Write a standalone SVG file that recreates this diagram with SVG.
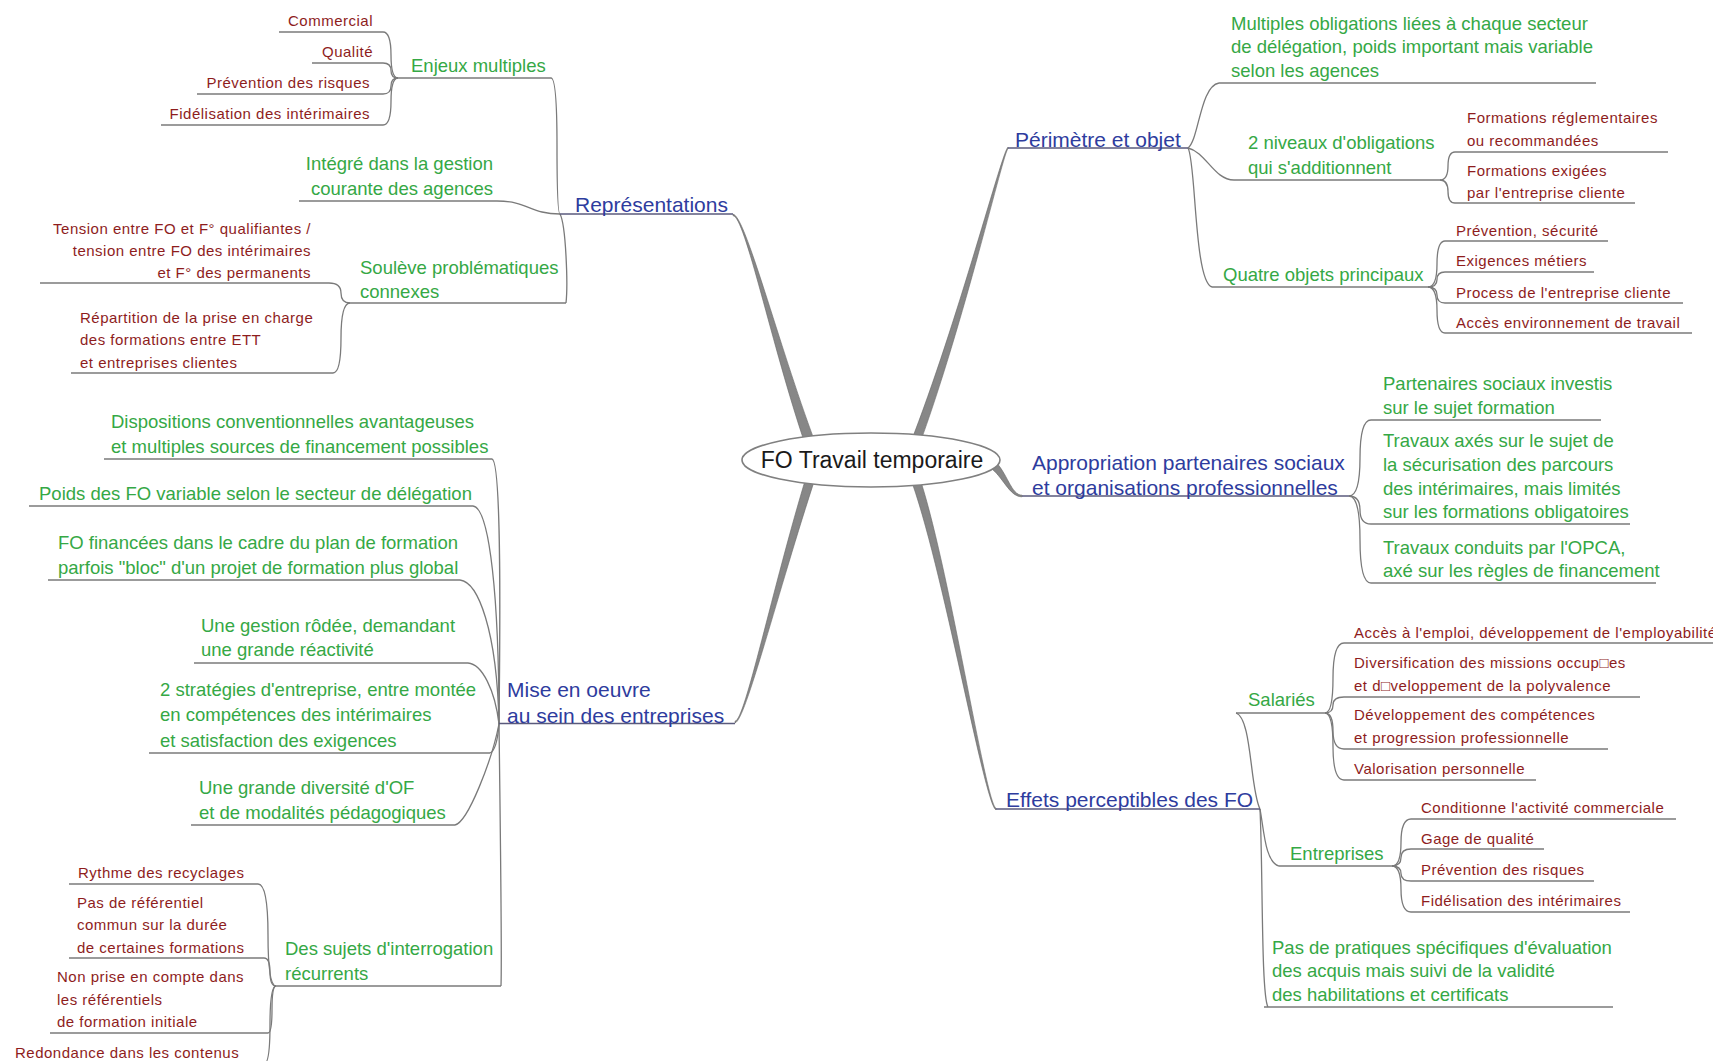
<svg xmlns="http://www.w3.org/2000/svg" width="1713" height="1061" viewBox="0 0 1713 1061">
<style>
  text { font-family: 'Liberation Sans', Arial, sans-serif; }
  .b { font-size: 21px; fill: #2e3c9e; }
  .g { font-size: 18.5px; fill: #35a845; }
  .r { font-size: 15px; fill: #8e1d1d; letter-spacing: 0.5px; }
  .e { text-anchor: end; }
  .ctr { font-size: 23px; fill: #1a1a1a; text-anchor: middle; }
  .ul { stroke: #7a7a7a; stroke-width: 1.4; }
  .mul { stroke: #5a5a7c; stroke-width: 1.6; }
  .c path { fill: none; stroke: #7a7a7a; stroke-width: 1.3; }
  .c path.trunk { fill: #878787; stroke: #666; stroke-width: 0.6; }
</style>
<rect width="1713" height="1061" fill="#fff"/>

<!-- connectors -->
<g id="connectors" class="c">
  <!-- main tapered branches from the central topic -->
  <path class="trunk" d="M 733,214.3 C 745,214.3 778.3,343.8 814.7,441.3 L 805.3,444.7 C 771.7,346.2 745,215.7 733,215.7 Z"/>
  <path class="trunk" d="M 1008,147.2 C 1002.5,149.2 959.1,318.9 909.5,445.6 L 917.9,448.8 C 964.9,321.1 1003.5,150.8 1008,148.8 Z"/>
  <path class="trunk" d="M 735,721.2 C 745,721.2 772,589 807.3,473.2 L 815.9,476 C 778,591 745,722.8 735,722.8 Z"/>
  <path class="trunk" d="M 996,808.2 C 985.5,804.2 948,558.9 918.1,473.2 L 909.7,476.2 C 942,561.1 984.5,805.8 996,809.8 Z"/>
  <path class="trunk" d="M 1022,495.2 C 1011,495.2 1007,471.8 994.4,460.8 L 989.6,467.2 C 1003,476.2 1009,496.8 1022,496.8 Z"/>

  <!-- Représentations -->
  <path d="M 551 78 Q 557 78 557 146 T 560 214"/>
  <path d="M 497 201 C 528 201, 530 214, 560 214"/>
  <path d="M 560 214 C 566 225, 568 285, 566 303"/>
  <!-- Enjeux multiples -->
  <path d="M 383 32 Q 391 32 391 55 T 398 78"/>
  <path d="M 383 63 Q 391 63 391 70.5 T 398 78"/>
  <path d="M 383 94 Q 391 94 391 86 T 398 78"/>
  <path d="M 383 125 Q 391 125 391 101.5 T 398 78"/>
  <!-- Soulève problématiques -->
  <path d="M 329 283 Q 341 283 341 293 T 350 303"/>
  <path d="M 333 373 Q 341 373 341 338 T 350 303"/>

  <!-- Mise en oeuvre -->
  <path d="M 492 459 C 502 461, 500 640, 499 724"/>
  <path d="M 473 506 C 490 508, 499 600, 499 724"/>
  <path d="M 460 580 C 478 582, 497 630, 499 724"/>
  <path d="M 468 663 C 482 664, 495 690, 499 724"/>
  <path d="M 490 753 Q 497 750 499 724"/>
  <path d="M 455 825 C 468 822, 492 760, 499 724"/>
  <path d="M 499 724 C 500 800, 502 960, 501 986"/>
  <!-- Des sujets d'interrogation -->
  <path d="M 258 884 Q 268 884 268 935 T 276 986"/>
  <path d="M 264 958 Q 270 958 270 972 T 276 986"/>
  <path d="M 268 1033 Q 272 1033 272 1009.5 T 276 986"/>
  <path d="M 264 1064 Q 270 1064 270 1025 T 276 986"/>

  <!-- Périmètre et objet -->
  <path d="M 1188 148 C 1199 140, 1200 86, 1219 83"/>
  <path d="M 1188 148 C 1206 152, 1214 180, 1234 180"/>
  <path d="M 1188 148 C 1196 160, 1194 282, 1212 287"/>
  <path d="M 1440 180 Q 1448 180 1448 166 T 1455 152"/>
  <path d="M 1440 180 Q 1448 180 1448 191.5 T 1455 203"/>
  <path d="M 1428 287 Q 1437 287 1437 264 T 1445 241"/>
  <path d="M 1428 287 Q 1437 287 1437 279.5 T 1445 272"/>
  <path d="M 1428 287 Q 1437 287 1437 295 T 1445 303"/>
  <path d="M 1428 287 Q 1437 287 1437 310 T 1445 333"/>

  <!-- Appropriation -->
  <path d="M 1349 496 Q 1360 496 1360 458 T 1371 420"/>
  <path d="M 1349 496 Q 1360 496 1360 510 T 1371 524"/>
  <path d="M 1349 496 Q 1360 496 1360 539.5 T 1371 583"/>

  <!-- Effets perceptibles -->
  <path d="M 1260 809 C 1250 790, 1252 718, 1236 713"/>
  <path d="M 1260 809 C 1264 830, 1265 862, 1279 866"/>
  <path d="M 1260 809 C 1263 870, 1261 995, 1268 1007"/>
  <path d="M 1325 713 Q 1333 713 1333 678 T 1344 643"/>
  <path d="M 1325 713 Q 1333 713 1333 705 T 1344 697"/>
  <path d="M 1325 713 Q 1333 713 1333 731 T 1344 749"/>
  <path d="M 1325 713 Q 1333 713 1333 746.5 T 1344 780"/>
  <path d="M 1392 866 Q 1401 866 1401 842.5 T 1411 819"/>
  <path d="M 1392 866 Q 1401 866 1401 857.5 T 1411 849"/>
  <path d="M 1392 866 Q 1401 866 1401 873.5 T 1411 881"/>
  <path d="M 1392 866 Q 1401 866 1401 889 T 1411 912"/>
</g>

<!-- central topic -->
<g id="center">
  <ellipse cx="871" cy="460" rx="129" ry="27" fill="#fff" stroke="#808080" stroke-width="1.6"/>
  <text class="ctr" x="872" y="468">FO Travail temporaire</text>
</g>

<!-- Représentations -->
<g id="representations">
  <line class="mul" x1="560" y1="214" x2="733" y2="214"/>
  <text class="b" x="575" y="212">Représentations</text>
</g>
<g id="enjeux">
  <line class="ul" x1="398" y1="78" x2="551" y2="78"/>
  <text class="g" x="411" y="71.5">Enjeux multiples</text>
</g>
<g id="commercial">
  <line class="ul" x1="279" y1="32" x2="383" y2="32"/>
  <text class="r e" x="373" y="26">Commercial</text>
</g>
<g id="qualite">
  <line class="ul" x1="312" y1="63" x2="383" y2="63"/>
  <text class="r e" x="373" y="57">Qualité</text>
</g>
<g id="prevention-risques-1">
  <line class="ul" x1="197" y1="94" x2="383" y2="94"/>
  <text class="r e" x="370" y="88">Prévention des risques</text>
</g>
<g id="fidelisation-1">
  <line class="ul" x1="161" y1="125" x2="383" y2="125"/>
  <text class="r e" x="370" y="119">Fidélisation des intérimaires</text>
</g>
<g id="integre">
  <line class="ul" x1="299" y1="201" x2="497" y2="201"/>
  <text class="g e"><tspan x="493" y="169.5">Intégré dans la gestion</tspan><tspan x="493" y="194.5">courante des agences</tspan></text>
</g>
<g id="souleve">
  <line class="ul" x1="350" y1="303" x2="566" y2="303"/>
  <text class="g"><tspan x="360" y="273.5">Soulève problématiques</tspan><tspan x="360" y="297.5">connexes</tspan></text>
</g>
<g id="tension">
  <line class="ul" x1="40" y1="283" x2="329" y2="283"/>
  <text class="r e"><tspan x="311" y="233.5">Tension entre FO et F° qualifiantes /</tspan><tspan x="311" y="255.5">tension entre FO des intérimaires</tspan><tspan x="311" y="277.5">et F° des permanents</tspan></text>
</g>
<g id="repartition">
  <line class="ul" x1="71" y1="373" x2="333" y2="373"/>
  <text class="r"><tspan x="80" y="322.5">Répartition de la prise en charge</tspan><tspan x="80" y="345">des formations entre ETT</tspan><tspan x="80" y="367.5">et entreprises clientes</tspan></text>
</g>

<!-- Mise en oeuvre -->
<g id="mise-en-oeuvre">
  <line class="mul" x1="499" y1="723.5" x2="735" y2="723.5"/>
  <text class="b"><tspan x="507" y="697">Mise en oeuvre</tspan><tspan x="507" y="722.5">au sein des entreprises</tspan></text>
</g>
<g id="dispositions">
  <line class="ul" x1="104" y1="459" x2="492" y2="459"/>
  <text class="g"><tspan x="111" y="427.5">Dispositions conventionnelles avantageuses</tspan><tspan x="111" y="452.5">et multiples sources de financement possibles</tspan></text>
</g>
<g id="poids">
  <line class="ul" x1="29" y1="506" x2="473" y2="506"/>
  <text class="g" x="39" y="499.5">Poids des FO variable selon le secteur de délégation</text>
</g>
<g id="fo-financees">
  <line class="ul" x1="48" y1="580" x2="460" y2="580"/>
  <text class="g"><tspan x="58" y="548.5">FO financées dans le cadre du plan de formation</tspan><tspan x="58" y="573.5">parfois "bloc" d'un projet de formation plus global</tspan></text>
</g>
<g id="gestion-rodee">
  <line class="ul" x1="194" y1="663" x2="468" y2="663"/>
  <text class="g"><tspan x="201" y="631.5">Une gestion rôdée, demandant</tspan><tspan x="201" y="656">une grande réactivité</tspan></text>
</g>
<g id="strategies">
  <line class="ul" x1="149" y1="753" x2="490" y2="753"/>
  <text class="g"><tspan x="160" y="695.5">2 stratégies d'entreprise, entre montée</tspan><tspan x="160" y="721">en compétences des intérimaires</tspan><tspan x="160" y="746.5">et satisfaction des exigences</tspan></text>
</g>
<g id="diversite-of">
  <line class="ul" x1="191" y1="825" x2="455" y2="825"/>
  <text class="g"><tspan x="199" y="793.5">Une grande diversité d'OF</tspan><tspan x="199" y="818.5">et de modalités pédagogiques</tspan></text>
</g>
<g id="sujets">
  <line class="ul" x1="276" y1="986" x2="501" y2="986"/>
  <text class="g"><tspan x="285" y="954.5">Des sujets d'interrogation</tspan><tspan x="285" y="979.5">récurrents</tspan></text>
</g>
<g id="rythme">
  <line class="ul" x1="69" y1="884" x2="258" y2="884"/>
  <text class="r" x="78" y="878">Rythme des recyclages</text>
</g>
<g id="pas-referentiel">
  <line class="ul" x1="69" y1="958" x2="264" y2="958"/>
  <text class="r"><tspan x="77" y="907.5">Pas de référentiel</tspan><tspan x="77" y="930">commun sur la durée</tspan><tspan x="77" y="952.5">de certaines formations</tspan></text>
</g>
<g id="non-prise">
  <line class="ul" x1="50" y1="1033" x2="268" y2="1033"/>
  <text class="r"><tspan x="57" y="982">Non prise en compte dans</tspan><tspan x="57" y="1004.5">les référentiels</tspan><tspan x="57" y="1027">de formation initiale</tspan></text>
</g>
<g id="redondance">
  <text class="r" x="15" y="1057.5">Redondance dans les contenus</text>
</g>

<!-- Périmètre et objet -->
<g id="perimetre">
  <line class="mul" x1="1008" y1="148" x2="1188" y2="148"/>
  <text class="b" x="1015" y="146.5">Périmètre et objet</text>
</g>
<g id="multiples">
  <line class="ul" x1="1219" y1="83" x2="1596" y2="83"/>
  <text class="g"><tspan x="1231" y="29.5">Multiples obligations liées à chaque secteur</tspan><tspan x="1231" y="53">de délégation, poids important mais variable</tspan><tspan x="1231" y="76.5">selon les agences</tspan></text>
</g>
<g id="deux-niveaux">
  <line class="ul" x1="1234" y1="180" x2="1440" y2="180"/>
  <text class="g"><tspan x="1248" y="149">2 niveaux d'obligations</tspan><tspan x="1248" y="173.5">qui s'additionnent</tspan></text>
</g>
<g id="reglementaires">
  <line class="ul" x1="1455" y1="152" x2="1668" y2="152"/>
  <text class="r"><tspan x="1467" y="123">Formations réglementaires</tspan><tspan x="1467" y="146">ou recommandées</tspan></text>
</g>
<g id="exigees">
  <line class="ul" x1="1455" y1="203" x2="1635" y2="203"/>
  <text class="r"><tspan x="1467" y="175.5">Formations exigées</tspan><tspan x="1467" y="198">par l'entreprise cliente</tspan></text>
</g>
<g id="quatre-objets">
  <line class="ul" x1="1212" y1="287" x2="1428" y2="287"/>
  <text class="g" x="1223" y="280.5">Quatre objets principaux</text>
</g>
<g id="prevention-securite">
  <line class="ul" x1="1445" y1="241" x2="1608" y2="241"/>
  <text class="r" x="1456" y="235.5">Prévention, sécurité</text>
</g>
<g id="exigences-metiers">
  <line class="ul" x1="1445" y1="272" x2="1594" y2="272"/>
  <text class="r" x="1456" y="266">Exigences métiers</text>
</g>
<g id="process">
  <line class="ul" x1="1445" y1="303" x2="1683" y2="303"/>
  <text class="r" x="1456" y="297.5">Process de l'entreprise cliente</text>
</g>
<g id="acces-environnement">
  <line class="ul" x1="1445" y1="333" x2="1692" y2="333"/>
  <text class="r" x="1456" y="328">Accès environnement de travail</text>
</g>

<!-- Appropriation -->
<g id="appropriation">
  <line class="mul" x1="1022" y1="496" x2="1349" y2="496"/>
  <text class="b"><tspan x="1032" y="469.5">Appropriation partenaires sociaux</tspan><tspan x="1032" y="495">et organisations professionnelles</tspan></text>
</g>
<g id="partenaires">
  <line class="ul" x1="1371" y1="420" x2="1601" y2="420"/>
  <text class="g"><tspan x="1383" y="389.5">Partenaires sociaux investis</tspan><tspan x="1383" y="413.5">sur le sujet formation</tspan></text>
</g>
<g id="travaux-axes">
  <line class="ul" x1="1371" y1="524" x2="1630" y2="524"/>
  <text class="g"><tspan x="1383" y="446.5">Travaux axés sur le sujet de</tspan><tspan x="1383" y="470.5">la sécurisation des parcours</tspan><tspan x="1383" y="494.5">des intérimaires, mais limités</tspan><tspan x="1383" y="518">sur les formations obligatoires</tspan></text>
</g>
<g id="travaux-opca">
  <line class="ul" x1="1371" y1="583" x2="1656" y2="583"/>
  <text class="g"><tspan x="1383" y="553.5">Travaux conduits par l'OPCA,</tspan><tspan x="1383" y="577">axé sur les règles de financement</tspan></text>
</g>

<!-- Effets perceptibles des FO -->
<g id="effets">
  <line class="mul" x1="996" y1="809" x2="1260" y2="809"/>
  <text class="b" x="1006" y="807">Effets perceptibles des FO</text>
</g>
<g id="salaries">
  <line class="ul" x1="1236" y1="713" x2="1325" y2="713"/>
  <text class="g" x="1248" y="706">Salariés</text>
</g>
<g id="acces-emploi">
  <line class="ul" x1="1344" y1="643" x2="1713" y2="643"/>
  <text class="r" x="1354" y="637.5">Accès à l'emploi, développement de l'employabilité</text>
</g>
<g id="diversification">
  <line class="ul" x1="1344" y1="697" x2="1640" y2="697"/>
  <text class="r"><tspan x="1354" y="667.5">Diversification des missions occup□es</tspan><tspan x="1354" y="690.5">et d□veloppement de la polyvalence</tspan></text>
</g>
<g id="developpement">
  <line class="ul" x1="1344" y1="749" x2="1608" y2="749"/>
  <text class="r"><tspan x="1354" y="719.5">Développement des compétences</tspan><tspan x="1354" y="742.5">et progression professionnelle</tspan></text>
</g>
<g id="valorisation">
  <line class="ul" x1="1344" y1="780" x2="1536" y2="780"/>
  <text class="r" x="1354" y="773.5">Valorisation personnelle</text>
</g>
<g id="entreprises">
  <line class="ul" x1="1279" y1="866" x2="1392" y2="866"/>
  <text class="g" x="1290" y="859.5">Entreprises</text>
</g>
<g id="conditionne">
  <line class="ul" x1="1411" y1="819" x2="1676" y2="819"/>
  <text class="r" x="1421" y="812.5">Conditionne l'activité commerciale</text>
</g>
<g id="gage">
  <line class="ul" x1="1411" y1="849" x2="1544" y2="849"/>
  <text class="r" x="1421" y="843.5">Gage de qualité</text>
</g>
<g id="prevention-risques-2">
  <line class="ul" x1="1411" y1="881" x2="1594" y2="881"/>
  <text class="r" x="1421" y="874.5">Prévention des risques</text>
</g>
<g id="fidelisation-2">
  <line class="ul" x1="1411" y1="912" x2="1630" y2="912"/>
  <text class="r" x="1421" y="905.5">Fidélisation des intérimaires</text>
</g>
<g id="pas-de-pratiques">
  <line class="ul" x1="1264" y1="1007" x2="1613" y2="1007"/>
  <text class="g"><tspan x="1272" y="953.5">Pas de pratiques spécifiques d'évaluation</tspan><tspan x="1272" y="977">des acquis mais suivi de la validité</tspan><tspan x="1272" y="1000.5">des habilitations et certificats</tspan></text>
</g>
</svg>
